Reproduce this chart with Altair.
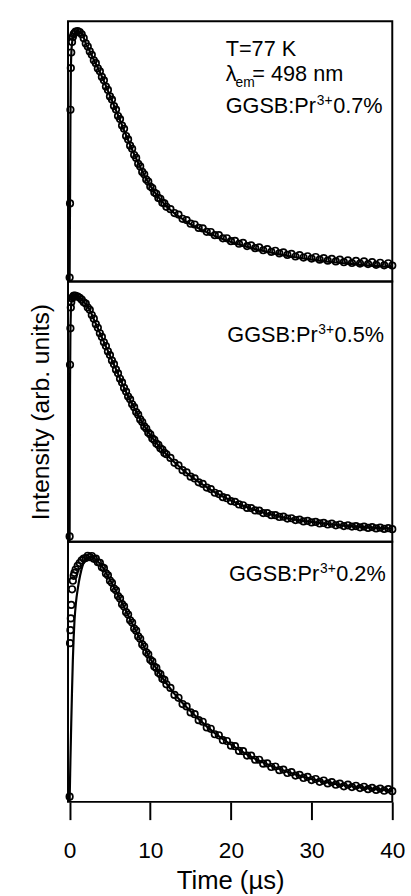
import altair as alt
import pandas as pd

FONT = "Liberation Sans"

# ---- sampled times of the decay curves (µs) ----
time_us = [
    0.0, 0.05, 0.1, 0.15, 0.2, 0.3, 0.4,
    0.5, 0.6, 0.75, 1.0, 1.25, 1.5, 1.75,
    2.0, 2.25, 2.5, 2.75, 3.0, 3.25, 3.5, 3.75,
    4.0, 4.25, 4.5, 4.75, 5.0, 5.25, 5.5, 5.75,
    6.0, 6.25, 6.5, 6.75, 7.0, 7.25, 7.5, 7.75,
    8.0, 8.25, 8.5, 8.75, 9.0, 9.25, 9.5, 9.75,
    10.0, 10.25, 10.5, 10.75, 11.0, 11.25, 11.5, 11.75,
    12.0,
    12.5, 13.0, 13.5, 14.0, 14.5, 15.0, 15.5, 16.0,
    16.5, 17.0, 17.5, 18.0, 18.5, 19.0, 19.5, 20.0,
    20.5, 21.0, 21.5, 22.0, 22.5, 23.0, 23.5, 24.0,
    24.5, 25.0, 25.5, 26.0, 26.5, 27.0, 27.5, 28.0,
    28.5, 29.0, 29.5, 30.0, 30.5, 31.0, 31.5, 32.0,
    32.5, 33.0, 33.5, 34.0, 34.5, 35.0, 35.5, 36.0,
    36.5, 37.0, 37.5, 38.0, 38.5, 39.0, 39.5, 40.0,
]

# ---- measured intensities (open circles), normalised per panel ----
pr07_points = [
    0.015, 0.30, 0.66, 0.82, 0.88, 0.92, 0.94,
    0.95, 0.955, 0.96, 0.962, 0.958, 0.95, 0.935,
    0.915, 0.903, 0.884, 0.871, 0.850, 0.839, 0.819, 0.808,
    0.786, 0.773, 0.749, 0.736, 0.711, 0.699, 0.674, 0.661,
    0.636, 0.624, 0.599, 0.587, 0.559, 0.546, 0.522, 0.510,
    0.486, 0.475, 0.452, 0.442, 0.421, 0.412, 0.392, 0.384,
    0.365, 0.359, 0.342, 0.337, 0.321, 0.318, 0.303, 0.300,
    0.287,
    0.278, 0.263, 0.257, 0.241, 0.236, 0.222, 0.219, 0.206,
    0.204, 0.191, 0.19, 0.178, 0.178, 0.166, 0.166, 0.155,
    0.156, 0.145, 0.148, 0.136, 0.139, 0.128, 0.131, 0.12,
    0.124, 0.114, 0.118, 0.108, 0.112, 0.102, 0.106, 0.096,
    0.101, 0.092, 0.097, 0.088, 0.094, 0.084, 0.09, 0.08,
    0.087, 0.077, 0.084, 0.074, 0.081, 0.071, 0.079, 0.069,
    0.077, 0.067, 0.074, 0.064, 0.072, 0.062, 0.07, 0.061,
]

pr05_points = [
    0.02, 0.68, 0.82, 0.90, 0.92, 0.935, 0.94,
    0.945, 0.946, 0.945, 0.942, 0.937, 0.93, 0.92,
    0.915, 0.900, 0.891, 0.871, 0.857, 0.836, 0.822, 0.801,
    0.787, 0.766, 0.752, 0.731, 0.717, 0.696, 0.682, 0.661,
    0.647, 0.626, 0.612, 0.591, 0.577, 0.558, 0.547, 0.528,
    0.517, 0.498, 0.488, 0.470, 0.460, 0.443, 0.435, 0.419,
    0.412, 0.397, 0.391, 0.377, 0.372, 0.359, 0.354, 0.341,
    0.336,
    0.322, 0.303, 0.293, 0.275, 0.266, 0.250, 0.243, 0.228,
    0.222, 0.208, 0.202, 0.188, 0.183, 0.171, 0.167, 0.156,
    0.153, 0.143, 0.140, 0.130, 0.129, 0.120, 0.119, 0.110,
    0.110, 0.102, 0.102, 0.095, 0.096, 0.089, 0.090, 0.083,
    0.085, 0.078, 0.080, 0.074, 0.076, 0.070, 0.072, 0.066,
    0.069, 0.063, 0.066, 0.060, 0.063, 0.058, 0.060, 0.055,
    0.058, 0.053, 0.056, 0.051, 0.054, 0.049, 0.052, 0.048,
]

pr02_points = [
    0.02, 0.61, 0.66, 0.705, 0.757, 0.817, 0.85,
    0.869, 0.88, 0.893, 0.907, 0.918, 0.928, 0.935,
    0.937, 0.946, 0.941, 0.945, 0.934, 0.935, 0.921, 0.919,
    0.902, 0.898, 0.878, 0.871, 0.850, 0.842, 0.820, 0.813,
    0.791, 0.782, 0.760, 0.751, 0.729, 0.720, 0.698, 0.689,
    0.666, 0.658, 0.636, 0.627, 0.605, 0.597, 0.575, 0.567,
    0.546, 0.540, 0.520, 0.515, 0.496, 0.491, 0.473, 0.469,
    0.452,
    0.438, 0.411, 0.400, 0.376, 0.367, 0.344, 0.337, 0.314,
    0.308, 0.286, 0.281, 0.260, 0.256, 0.237, 0.234, 0.216,
    0.214, 0.196, 0.195, 0.178, 0.178, 0.162, 0.162, 0.147,
    0.148, 0.134, 0.136, 0.122, 0.124, 0.111, 0.114, 0.101,
    0.104, 0.092, 0.096, 0.084, 0.088, 0.077, 0.082, 0.071,
    0.076, 0.066, 0.070, 0.060, 0.066, 0.057, 0.062, 0.053,
    0.058, 0.049, 0.054, 0.046, 0.051, 0.043, 0.049, 0.041,
]

# ---- fitted curves (solid lines) ----
line_time = [0, 0.05, 0.1, 0.15, 0.2, 0.3, 0.4, 0.5, 0.6, 0.8, 1.0, 1.3, 1.6,
             2.0, 2.5, 3, 3.5, 4, 5, 6, 7, 8, 9, 10, 11, 12, 13, 14, 15, 16,
             18, 20, 22, 24, 26, 28, 30, 32, 34, 36, 38, 40]
pr07_fit = [0.0, 0.3, 0.62, 0.8, 0.87, 0.915, 0.935, 0.945, 0.952, 0.958, 0.962,
            0.958, 0.95, 0.915, 0.885, 0.852, 0.821, 0.788, 0.714, 0.639, 0.562,
            0.489, 0.424, 0.368, 0.324, 0.289, 0.262, 0.24, 0.22, 0.204, 0.175,
            0.152, 0.133, 0.117, 0.104, 0.093, 0.084, 0.076, 0.07, 0.064, 0.059, 0.055]
pr05_fit = [0.0, 0.6, 0.8, 0.88, 0.915, 0.933, 0.94, 0.943, 0.945, 0.945, 0.942,
            0.936, 0.928, 0.913, 0.89, 0.855, 0.82, 0.785, 0.715, 0.645, 0.575,
            0.515, 0.458, 0.41, 0.37, 0.335, 0.305, 0.277, 0.252, 0.23, 0.19,
            0.158, 0.132, 0.112, 0.097, 0.085, 0.076, 0.068, 0.062, 0.057, 0.053, 0.05]
pr02_fit = [0.0, 0.08, 0.16, 0.23, 0.3, 0.43, 0.545, 0.63, 0.694, 0.77, 0.817,
            0.87, 0.907, 0.93, 0.942, 0.937, 0.924, 0.906, 0.854, 0.795, 0.733,
            0.67, 0.609, 0.55, 0.5, 0.455, 0.415, 0.38, 0.348, 0.318, 0.264,
            0.22, 0.182, 0.151, 0.126, 0.105, 0.088, 0.075, 0.064, 0.056, 0.049, 0.044]

x_ticks = [0, 10, 20, 30, 40]

W, H = 329, 264
xscale = alt.Scale(domain=[-0.2, 40], nice=False, zero=False)
yscale = alt.Scale(domain=[0, 1], nice=False, zero=False)
one = pd.DataFrame({"k": [0]})


def panel(vals, fit, xaxis, yaxis, notes):
    pts = pd.DataFrame({"t": time_us, "v": vals})
    ln = pd.DataFrame({"t": line_time, "v": fit})
    x = alt.X("t:Q", scale=xscale, axis=xaxis)
    y = alt.Y("v:Q", scale=yscale, axis=yaxis)
    circles = alt.Chart(pts).mark_point(
        shape="circle", filled=False, size=44, color="black", strokeWidth=1.7, opacity=1
    ).encode(x=x, y=y)
    line = alt.Chart(ln).mark_line(
        color="black", strokeWidth=2.2, interpolate="monotone"
    ).encode(x=x, y=y)
    layers = [circles, line]
    for txt, px, py, fs in notes:
        layers.append(
            alt.Chart(one).mark_text(
                text=txt, align="left", baseline="alphabetic", fontSize=fs,
                font=FONT, color="black"
            ).encode(x=alt.value(px), y=alt.value(py))
        )
    return alt.layer(*layers).properties(width=W, height=H)


bottom_x = alt.Axis(
    values=x_ticks, tickSize=18, tickWidth=2, tickColor="black",
    labelFontSize=23, labelFont=FONT, labelColor="black", labelPadding=20,
    labelFlush=False, title="Time (µs)", titleFontSize=26, titleFont=FONT,
    titleFontWeight="normal", titleColor="black", titlePadding=6,
    domain=False, grid=False,
)
mid_y = alt.Axis(
    title="Intensity (arb. units)", labels=False, ticks=False, domain=False,
    grid=False, titleFontSize=25, titleFont=FONT, titleFontWeight="normal",
    titleColor="black", titlePadding=15,
)

top = panel(pr07_points, pr07_fit, None, None, [
    ("T=77 K", 160, 35.3, 22),
    ("λ", 160, 61, 22),
    ("em", 170, 66.7, 14),
    ("= 498 nm", 187, 61, 22),
    ("GGSB:Pr", 160, 92.7, 22),
    ("3+", 252.5, 84.7, 14),
    ("0.7%", 269, 92.7, 22),
])
mid = panel(pr05_points, pr05_fit, None, mid_y, [
    ("GGSB:Pr", 161.6, 61.3, 22),
    ("3+", 254, 53.3, 14),
    ("0.5%", 270.5, 61.3, 22),
])
bot = panel(pr02_points, pr02_fit, bottom_x, None, [
    ("GGSB:Pr", 163.3, 40, 22),
    ("3+", 255.7, 32, 14),
    ("0.2%", 272.2, 40, 22),
])

chart = (
    alt.vconcat(top, mid, bot, spacing=0, bounds="flush")
    .properties(padding={"left": 28, "top": 14, "right": 5, "bottom": 2})
    .configure(font=FONT)
    .configure_view(stroke="black", strokeWidth=2)
)

chart.save("out.html", embed_options={"renderer": "svg", "actions": False})
